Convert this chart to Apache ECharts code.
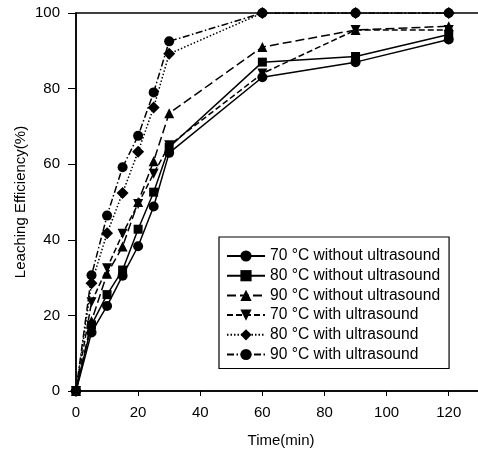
<!DOCTYPE html>
<html>
<head>
<meta charset="utf-8">
<script src="https://cdn.jsdelivr.net/npm/echarts@6/dist/echarts.min.js"></script>
<style>
  html, body { margin: 0; padding: 0; background: #fff; }
  #main { width: 478px; height: 449px; }
</style>
</head>
<body>
<div id="main"></div>
<script>
// time points (min)
var time = [0, 5, 10, 15, 20, 25, 30, 60, 90, 120];
// leaching efficiency (%)
var noUs70 = [0, 15.5, 22.5, 30.5, 38.3, 48.8, 63, 83, 87, 93];
var noUs80 = [0, 17.5, 25.5, 32, 42.8, 52.6, 64.5, 87, 88.5, 94.3];
var noUs90 = [0, 18.5, 31, 38.2, 50, 60.8, 73.5, 91, 95.5, 96.5];
var us70 = [0, 23.5, 32.5, 41.6, 49.5, 57.5, 65, 84, 95.5, 95.5];
var us80 = [0, 28.5, 41.7, 52.4, 63.3, 75, 89.2, 100, 100, 100];
var us90 = [0, 30.6, 46.4, 59.2, 67.5, 79, 92.5, 100, 100, 100];
var names = [
  '70 °C without ultrasound',
  '80 °C without ultrasound',
  '90 °C without ultrasound',
  '70 °C with ultrasound',
  '80 °C with ultrasound',
  '90 °C with ultrasound'
];
var xTicks = [0, 20, 40, 60, 80, 100, 120];
var yTicks = [0, 20, 40, 60, 80, 100];

var font = 'Liberation Sans, Arial, sans-serif';

function pairs(arr) {
  return time.map(function (t, i) { return [t, arr[i]]; });
}

function makeSeries(name, arr, symbol, dash, size) {
  return {
    name: name,
    type: 'line',
    data: pairs(arr),
    symbol: symbol,
    symbolSize: size || 10,
    itemStyle: { color: '#000' },
    lineStyle: { color: '#000', width: 1.5, type: dash },
    emphasis: { disabled: true },
    animation: false
  };
}

var mChart = echarts.init(document.getElementById('main'));
var option = {
  backgroundColor: '#fff',
  textStyle: { fontFamily: font },
  grid: {
    left: 76,
    top: 13,
    width: 410,
    height: 378,
    outerBoundsMode: 'none',
    containLabel: false,
    show: true,
    borderColor: '#000',
    borderWidth: 1.5
  },
  legend: {
    orient: 'vertical',
    left: 219,
    top: 237,
    itemWidth: 38,
    itemHeight: 14,
    itemGap: 3.7,
    padding: [11, 9, 6, 7],
    borderColor: '#000',
    borderWidth: 1.2,
    backgroundColor: '#fff',
    textStyle: { color: '#000', fontSize: 15.6, fontFamily: font },
    data: names
  },
  xAxis: {
    type: 'value',
    min: 0,
    max: 132,
    interval: 20,
    name: 'Time(min)',
    nameLocation: 'middle',
    nameGap: 42,
    nameMoveOverlap: false,
    nameTextStyle: { color: '#000', fontSize: 15, fontFamily: font },
    axisLine: { onZero: false, lineStyle: { color: '#000', width: 1.5 } },
    axisTick: { show: true, length: 5, lineStyle: { color: '#000' } },
    axisLabel: {
      color: '#000', fontSize: 15, margin: 14, fontFamily: font,
      showMaxLabel: false,
      formatter: function (v) { return xTicks.indexOf(v) >= 0 ? v : ''; }
    },
    splitLine: { show: false }
  },
  yAxis: {
    type: 'value',
    min: 0,
    max: 100,
    interval: 20,
    name: 'Leaching Efficiency(%)',
    nameLocation: 'middle',
    nameGap: 48,
    nameMoveOverlap: false,
    nameTextStyle: { color: '#000', fontSize: 15, fontFamily: font },
    axisLine: { lineStyle: { color: '#000', width: 1.5 } },
    axisTick: { show: true, length: 8, lineStyle: { color: '#000' } },
    axisLabel: {
      color: '#000', fontSize: 15, margin: 16, fontFamily: font,
      formatter: function (v) { return yTicks.indexOf(v) >= 0 ? v : ''; }
    },
    splitLine: { show: false }
  },
  series: [
    makeSeries(names[0], noUs70, 'circle', 'solid'),
    makeSeries(names[1], noUs80, 'rect', 'solid', 9),
    makeSeries(names[2], noUs90, 'triangle', [9, 4]),
    makeSeries(names[3], us70, 'path://M0,0 L10,0 L5,10 Z', [6, 3]),
    makeSeries(names[4], us80, 'diamond', [1.5, 2], 12),
    makeSeries(names[5], us90, 'circle', [7, 2.5, 1.5, 2.5])
  ]
};
mChart.setOption(option);
window.addEventListener('resize', function () {
  mChart.resize();
});
</script>
</body>
</html>
